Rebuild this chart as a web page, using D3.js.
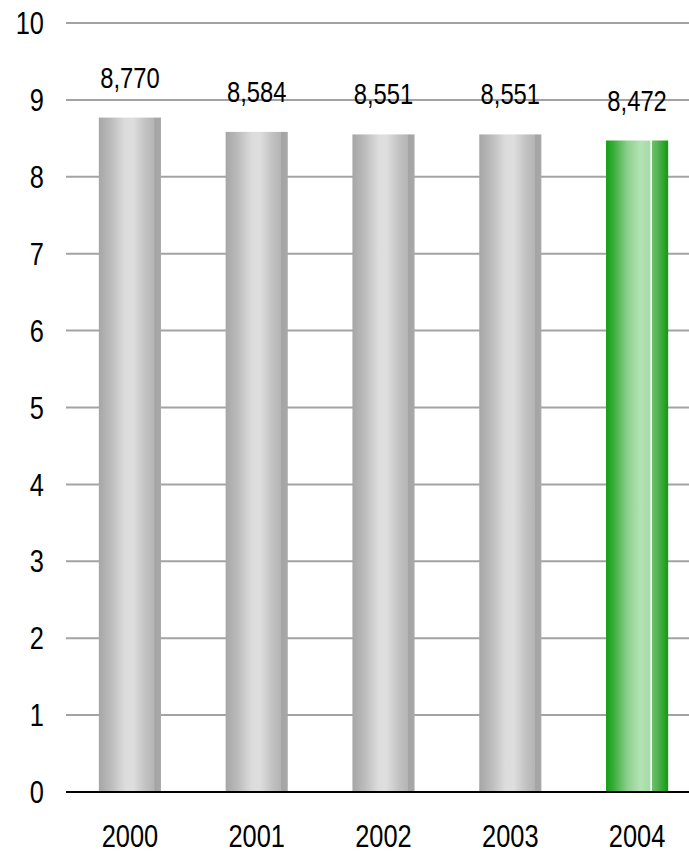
<!DOCTYPE html>
<html><head><meta charset="utf-8">
<script src="https://cdn.jsdelivr.net/npm/d3@7"></script>
<style>
html,body{margin:0;padding:0;background:#fff;}
text{font-family:"Liberation Sans Narrow","Arial Narrow","Liberation Sans",Arial,sans-serif;fill:#000;}
</style></head>
<body>
<svg id="chart" width="689" height="854"></svg>
<script>
const years = ["2000","2001","2002","2003","2004"];
const values = [8.770, 8.584, 8.551, 8.551, 8.472];
const valueLabels = ["8,770","8,584","8,551","8,551","8,472"];
const yTicks = [0,1,2,3,4,5,6,7,8,9,10];
const highlightYear = "2004";

const svg = d3.select("#chart");
const W = 689;
const SX = 0.82; // condensed look
const x = d3.scaleBand().domain(years).range([66.5, 700.5]).paddingInner(0.51).paddingOuter(0.255);
const y = d3.scaleLinear().domain([0, 10]).range([792, 23]);

const defs = svg.append("defs");
const grey = defs.append("linearGradient").attr("id","gGrey").attr("x1","0").attr("x2","1").attr("y1","0").attr("y2","0");
[[0,"#a6a6a6"],[0.2,"#bcbcbc"],[0.42,"#dcdcdc"],[0.55,"#dedede"],[0.75,"#c2c2c2"],[0.89,"#b4b4b4"],[0.9,"#a4a4a4"],[1,"#a8a8a8"]]
  .forEach(([o,c]) => grey.append("stop").attr("offset",o).attr("stop-color",c));
const green = defs.append("linearGradient").attr("id","gGreen").attr("x1","0").attr("x2","1").attr("y1","0").attr("y2","0");
[[0,"#12a012"],[0.12,"#3aac3a"],[0.35,"#8fd08f"],[0.55,"#b3e2b3"],[0.7,"#a6dca6"],[0.715,"#9ed89e"],[0.716,"#ffffff"],[0.745,"#ffffff"],[0.746,"#6cc06c"],[0.85,"#4caf4c"],[1,"#109c10"]]
  .forEach(([o,c]) => green.append("stop").attr("offset",o).attr("stop-color",c));

// gridlines
svg.append("g").selectAll("line").data(yTicks.filter(d => d > 0)).join("line")
  .attr("x1", 66).attr("x2", W).attr("y1", d => y(d)).attr("y2", d => y(d))
  .attr("stroke", "#a3a3a3").attr("stroke-width", 2);

// bars
svg.append("g").selectAll("rect").data(years).join("rect")
  .attr("x", d => x(d)).attr("width", x.bandwidth())
  .attr("y", (d,i) => y(values[i])).attr("height", (d,i) => y(0) - y(values[i]))
  .attr("fill", d => d === highlightYear ? "url(#gGreen)" : "url(#gGrey)");

// axis line
svg.append("line").attr("x1", 66).attr("x2", W).attr("y1", y(0)).attr("y2", y(0))
  .attr("stroke", "#000").attr("stroke-width", 2);

// y tick labels
svg.append("g").selectAll("text").data(yTicks).join("text")
  .attr("transform", d => `translate(44,${y(d)}) scale(${SX},1)`)
  .attr("text-anchor", "end").attr("dy", "0.36em").attr("font-size", 31)
  .text(d => d3.format("d")(d));

// x tick labels
svg.append("g").selectAll("text").data(years).join("text")
  .attr("transform", d => `translate(${x(d) + x.bandwidth()/2},847) scale(${SX},1)`)
  .attr("text-anchor", "middle").attr("font-size", 31)
  .text(d => d);

// value labels
svg.append("g").selectAll("text").data(years).join("text")
  .attr("transform", (d,i) => `translate(${x(d) + x.bandwidth()/2},${y(values[i]) - 30}) scale(${SX},1)`)
  .attr("text-anchor", "middle").attr("font-size", 29)
  .text((d,i) => valueLabels[i]);
</script>
</body></html>
